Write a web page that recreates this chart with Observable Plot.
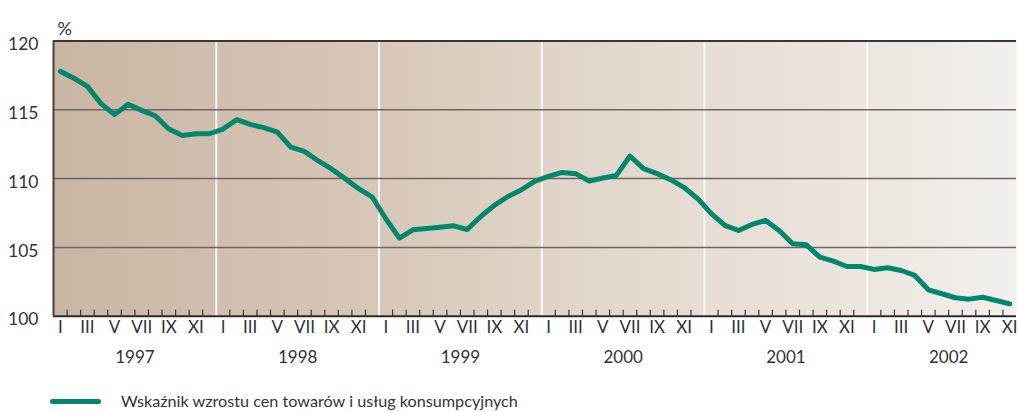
<!DOCTYPE html>
<html><head><meta charset="utf-8">
<script src="https://cdn.jsdelivr.net/npm/d3@7"></script>
<script src="https://cdn.jsdelivr.net/npm/@observablehq/plot@0.6"></script>
<style>
body{margin:0;background:#fff;font-family:Lato,"Open Sans",sans-serif;}
#chart svg{display:block;}
#legend{position:relative;height:32px;width:1018px;}
#legend .sw{position:absolute;left:50px;top:19px;width:51px;height:5px;border-radius:3px;background:#00876c;}
#legend .lb{position:absolute;left:121px;top:11px;font-size:16.2px;color:#333;line-height:20px;white-space:nowrap;}
</style></head><body>
<div id="chart"></div>
<div id="legend"><div class="sw"></div><div class="lb">Wskaźnik wzrostu cen towarów i usług konsumpcyjnych</div></div>
<script>
const years = [1997, 1998, 1999, 2000, 2001, 2002];
const monthNames = ["I","II","III","IV","V","VI","VII","VIII","IX","X","XI","XII"];
const values = [
  117.8,117.3,116.7,115.45,114.65,115.4,114.96,114.57,113.6,113.14,113.26,113.26,
  113.6,114.28,113.94,113.7,113.38,112.29,111.98,111.3,110.7,110.0,109.27,108.66,
  107.08,105.67,106.28,106.38,106.47,106.57,106.3,107.25,108.05,108.7,109.19,109.82,
  110.16,110.45,110.36,109.82,110.04,110.23,111.64,110.72,110.36,109.92,109.34,108.54,
  107.45,106.6,106.23,106.67,106.96,106.23,105.27,105.19,104.29,104.0,103.61,103.61,
  103.4,103.52,103.32,102.96,101.92,101.63,101.34,101.24,101.38,101.14,100.9
];
const yTicks = [100, 105, 110, 115, 120];
const gridValues = [105, 110, 115];

const series = values.map((v, i) => ({i, v, year: years[Math.floor(i / 12)], month: monthNames[i % 12]}));
const monthLabels = series.filter(d => (d.i % 12) % 2 === 0);
const boundaries = d3.range(0, values.length - 1).map(i => i + 0.5).filter(b => (b + 0.5) % 12 !== 0);
const yearBoundaries = d3.range(1, years.length).map(k => k * 12 - 0.5);
const yearCenters = years.map((y, k) => ({year: y, c: k * 12 + 5.5}));
const xDomain = [-0.5, values.length - 0.5];

const H = 380;
const chart = Plot.plot({
  width: 1018,
  height: H,
  marginLeft: 53,
  marginRight: 2,
  marginTop: 40.5,
  marginBottom: H - 315.7,
  style: {fontFamily: "Lato, 'Open Sans', sans-serif", color: "#333", background: "transparent", overflow: "visible"},
  x: {domain: xDomain, axis: null},
  y: {domain: [100, 120], axis: null},
  marks: [
    Plot.frame({fill: "url(#bgGrad)", stroke: null}),
    Plot.ruleX(yearBoundaries, {x: d => d, stroke: "#fbf8f5", strokeWidth: 2}),
    Plot.ruleY(gridValues, {y: d => d, stroke: "#70655f", strokeWidth: 1.5}),
    Plot.ruleY([120], {y: d => d, stroke: "#3a3533", strokeWidth: 2}),
    Plot.ruleX(boundaries, {x: d => d, y1: 100, y2: 100, insetTop: -6, stroke: "#3a3533", strokeWidth: 1.2}),
    Plot.ruleY([100], {y: d => d, stroke: "#2e2a28", strokeWidth: 2}),
    Plot.ruleX([xDomain[0]], {x: d => d, stroke: "#4a413c", strokeWidth: 2}),
    Plot.line(series, {x: "i", y: "v", stroke: "#00876c", strokeWidth: 5, strokeLinejoin: "round", strokeLinecap: "round"}),
    Plot.text(yTicks, {y: d => d, text: d => String(d), frameAnchor: "left", textAnchor: "end", dx: -15, dy: 3.5, fontSize: 17.5, fill: "#333"}),
    Plot.text(monthLabels, {x: "i", text: "month", frameAnchor: "bottom", dy: 17, fontSize: 17, fill: "#333"}),
    Plot.text(yearCenters, {x: "c", text: d => String(d.year), frameAnchor: "bottom", dy: 47, fontSize: 17, fill: "#333"}),
    Plot.text(["%"], {text: d => d, frameAnchor: "top-left", dx: 4, dy: -19, textAnchor: "start", fontSize: 18, fill: "#333"})
  ]
});
const svg = d3.select(chart);
const defs = svg.insert("defs", ":first-child");
const grad = defs.append("linearGradient").attr("id", "bgGrad").attr("x1", 0).attr("x2", 1).attr("y1", 0).attr("y2", 0);
[[0, "#c9b5a3"], [0.35, "#d7c8ba"], [0.5, "#dfd3c7"], [0.75, "#e9e1d9"], [1, "#f3efec"]].forEach(([o, c]) =>
  grad.append("stop").attr("offset", o).attr("stop-color", c));
document.getElementById("chart").appendChild(chart);
</script>
</body></html>
